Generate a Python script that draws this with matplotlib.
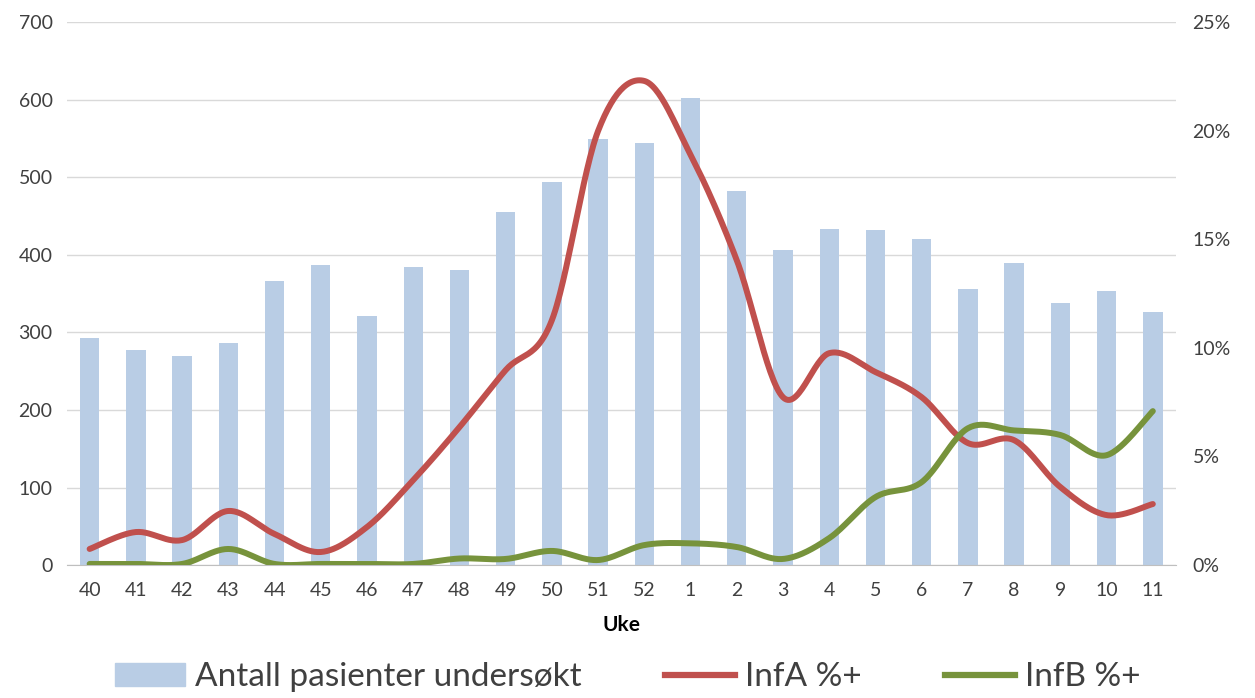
import numpy as np
import matplotlib
matplotlib.use("Agg")
import matplotlib.pyplot as plt
from matplotlib.lines import Line2D
from matplotlib.patches import Patch

plt.rcParams['font.family'] = ['Lato', 'DejaVu Sans']

weeks = ["40", "41", "42", "43", "44", "45", "46", "47", "48", "49", "50", "51", "52",
         "1", "2", "3", "4", "5", "6", "7", "8", "9", "10", "11"]
patients = [293, 277, 269, 286, 367, 387, 321, 384, 380, 455, 494, 550, 544,
            603, 482, 406, 434, 432, 421, 356, 389, 338, 353, 326]
infA = [0.74, 1.52, 1.15, 2.49, 1.43, 0.60, 1.75, 3.91, 6.35, 8.98, 11.28, 20.0, 22.3,
        18.9, 14.04, 7.73, 9.76, 8.89, 7.73, 5.62, 5.75, 3.59, 2.30, 2.81]
infB = [0.05, 0.05, 0.05, 0.74, 0.05, 0.05, 0.05, 0.05, 0.30, 0.28, 0.65, 0.23, 0.92,
        1.00, 0.83, 0.28, 1.24, 3.13, 3.82, 6.30, 6.20, 5.99, 5.06, 7.09]

def smooth(x, y, n=30):
    x = np.asarray(x, float); y = np.asarray(y, float)
    P = np.column_stack([x, y])
    Pp = np.vstack([P[0], P, P[-1]])
    out = []
    t = np.linspace(0, 1, n)
    for i in range(len(P) - 1):
        p0, p1, p2, p3 = Pp[i], Pp[i + 1], Pp[i + 2], Pp[i + 3]
        b1 = p1 + (p2 - p0) / 6
        b2 = p2 - (p3 - p1) / 6
        seg = ((1 - t) ** 3)[:, None] * p1 + (3 * (1 - t) ** 2 * t)[:, None] * b1 \
            + (3 * (1 - t) * t ** 2)[:, None] * b2 + (t ** 3)[:, None] * p2
        out.append(seg if i == 0 else seg[1:])
    s = np.vstack(out)
    return s[:, 0], s[:, 1]

fig = plt.figure(figsize=(12.55, 6.98), dpi=100)
ax = fig.add_axes([0.053, 0.1905, 0.884, 0.7775])
x = np.arange(len(weeks))
ax.bar(x, patients, width=0.42, color='#B9CDE5', zorder=2)
ax.set_xlim(-0.5, len(weeks) - 0.5)
ax.set_ylim(0, 700)
ax.set_yticks(range(0, 701, 100))
ax.set_xticks(x)
ax.set_xticklabels(weeks)
ax.grid(axis='y', color='#D9D9D9', linewidth=1, zorder=0)
ax.set_axisbelow(True)
for s in ['top', 'right', 'left']:
    ax.spines[s].set_visible(False)
ax.spines['bottom'].set_color('#BFBFBF')
ax.tick_params(axis='y', length=0, labelsize=14, colors='#404040', pad=10)
ax.tick_params(axis='x', length=0, labelsize=14, colors='#404040', pad=12)
ax.set_xlabel('Uke', fontsize=15, fontweight='bold', labelpad=12)

ax2 = ax.twinx()
ax2.set_ylim(0, 25)
ax2.set_yticks(range(0, 26, 5))
ax2.set_yticklabels([f"{v}%" for v in range(0, 26, 5)])
for s in ['top', 'right', 'left', 'bottom']:
    ax2.spines[s].set_visible(False)
ax2.tick_params(axis='y', length=0, labelsize=14, colors='#404040', pad=12)
xa, ya = smooth(x, infA)
xb, yb = smooth(x, infB)
ax2.plot(xa, ya, color='#C0504D', linewidth=4.3, solid_capstyle='round')
ax2.plot(xb, yb, color='#77933C', linewidth=4.3, solid_capstyle='round')

handles = [Patch(color='#B9CDE5'),
           Line2D([0], [0], color='#C0504D', linewidth=4.5),
           Line2D([0], [0], color='#77933C', linewidth=4.5)]
labels = ['Antall pasienter undersøkt', 'InfA %+', 'InfB %+']
fig.legend(handles, labels, loc='lower center', bbox_to_anchor=(0.5, -0.035), ncol=3,
           frameon=False, fontsize=24, columnspacing=2.5, handlelength=2.1,
           handletextpad=0.3, labelcolor='#404040')

fig.savefig('out.png', dpi=100)
